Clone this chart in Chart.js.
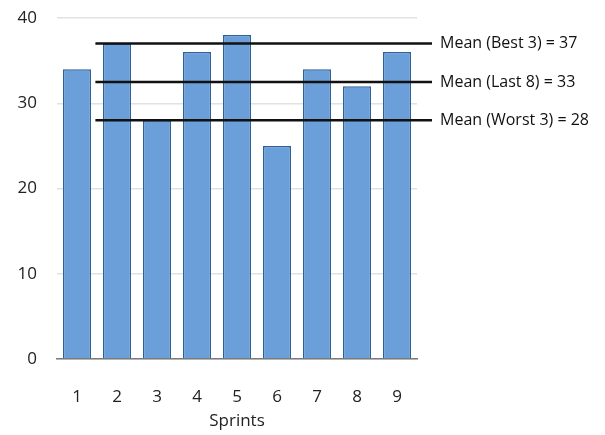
<!DOCTYPE html>
<html>
<head>
<meta charset="utf-8">
<script src="https://cdn.jsdelivr.net/npm/chart.js@4/dist/chart.umd.min.js"></script>
<style>
  html, body { margin: 0; padding: 0; background: #ffffff; }
  #wrap { width: 605px; height: 435px; }
</style>
</head>
<body>
<div id="wrap"><canvas id="c" width="605" height="435"></canvas></div>
<script>
const sprints = ['1', '2', '3', '4', '5', '6', '7', '8', '9'];
const velocity = [34, 37, 28, 36, 38, 25, 34, 32, 36];
const meanLabels = ['Mean (Best 3) = 37', 'Mean (Last 8) = 33', 'Mean (Worst 3) = 28'];
const meanValues = [37, 32.5, 28];
const yTicks = [0, 10, 20, 30, 40];

const FONT = "'Open Sans', 'DejaVu Sans', sans-serif";

const meanLinesPlugin = {
  id: 'meanLines',
  afterDatasetsDraw(chart) {
    const { ctx, chartArea, scales } = chart;
    const xs = scales.x, ys = scales.y;
    const x0 = xs.getPixelForValue(0) + (xs.getPixelForValue(1) - xs.getPixelForValue(0)) * 0.46;
    const x1 = chartArea.right + 15;
    ctx.save();
    ctx.strokeStyle = '#111111';
    ctx.lineWidth = 2.5;
    ctx.fillStyle = '#111111';
    ctx.font = '16px ' + FONT;
    ctx.textBaseline = 'middle';
    ctx.textAlign = 'left';
    meanValues.forEach((v, i) => {
      const y = ys.getPixelForValue(v);
      ctx.beginPath();
      ctx.moveTo(x0, y);
      ctx.lineTo(x1, y);
      ctx.stroke();
      ctx.fillText(meanLabels[i], x1 + 8, y);
    });
    ctx.restore();
  }
};

new Chart(document.getElementById('c'), {
  type: 'bar',
  data: {
    labels: sprints,
    datasets: [{
      data: velocity,
      backgroundColor: '#6b9fd9',
      borderColor: '#2e619c',
      borderWidth: 1.5,
      barPercentage: 0.7,
      categoryPercentage: 1.0
    }]
  },
  options: {
    responsive: false,
    animation: false,
    layout: { padding: { top: 18, right: 188, left: 10, bottom: 4 } },
    plugins: { legend: { display: false }, tooltip: { enabled: false } },
    scales: {
      x: {
        afterFit(scale) { scale.height = 72; },
        grid: { display: false },
        border: { display: true, color: '#7a7a7a', width: 1.5 },
        ticks: { color: '#222', font: { family: FONT, size: 17 }, padding: 20 },
        title: { display: true, text: 'Sprints', color: '#222', font: { family: FONT, size: 17 }, padding: { top: 0, bottom: 0 } }
      },
      y: {
        min: 0, max: 40,
        afterBuildTicks(scale) { scale.ticks = yTicks.map(v => ({ value: v })); },
        afterFit(scale) { scale.width = 47; scale.paddingTop = 0; scale.paddingBottom = 0; },
        grid: { color: '#e2e2e2', lineWidth: 1.5, drawTicks: false },
        border: { display: false },
        ticks: { color: '#222', font: { family: FONT, size: 17 }, padding: 20 }
      }
    }
  },
  plugins: [meanLinesPlugin]
});
</script>
</body>
</html>
